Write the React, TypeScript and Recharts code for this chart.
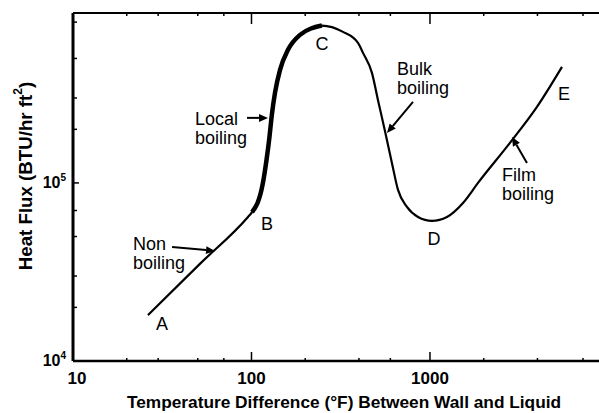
import React from 'react';
import { LineChart, Line, XAxis, YAxis, ReferenceLine, ReferenceDot } from 'recharts';

// Boiling curve: temperature difference (°F) vs heat flux (BTU/hr ft²)
const curve = [
  { x: 26.3, y: 18100 },
  { x: 51.4, y: 35100 },
  { x: 95.6, y: 64400 },
  { x: 100.7, y: 68500 },
  { x: 115.9, y: 100000 },
  { x: 121.4, y: 134700 },
  { x: 126.1, y: 181300 },
  { x: 130, y: 241000 },
  { x: 135.4, y: 320400 },
  { x: 144.5, y: 431300 },
  { x: 160.1, y: 558700 },
  { x: 187, y: 678000 },
  { x: 248, y: 765000 },
  { x: 325.6, y: 705000 },
  { x: 395, y: 612000 },
  { x: 421.5, y: 537500 },
  { x: 473, y: 415000 },
  { x: 511, y: 292600 },
  { x: 559.5, y: 195900 },
  { x: 612, y: 129500 },
  { x: 662, y: 91400 },
  { x: 743, y: 73300 },
  { x: 857, y: 64400 },
  { x: 1026, y: 61200 },
  { x: 1245, y: 64400 },
  { x: 1531, y: 77200 },
  { x: 1858, y: 100000 },
  { x: 2805, y: 167800 },
  { x: 3975, y: 267300 },
  { x: 5490, y: 448500 },
];

// Local boiling segment drawn heavier (B to C)
const localBoiling = [
  { x: 100.7, y: 68500 },
  { x: 115.9, y: 100000 },
  { x: 121.4, y: 134700 },
  { x: 126.1, y: 181300 },
  { x: 130, y: 241000 },
  { x: 135.4, y: 320400 },
  { x: 144.5, y: 431300 },
  { x: 160.1, y: 558700 },
  { x: 187, y: 678000 },
  { x: 248, y: 765000 },
];

const xMajor = [10, 100, 1000];
const xTicks = [10, 20, 30, 40, 50, 60, 70, 80, 90, 100, 200, 300, 400, 500, 600, 700, 800, 900, 1000, 2000, 3000, 4000, 5000, 6000, 7000, 8000];
const yMajor = [10000, 100000];
const yTicks = [10000, 20000, 30000, 40000, 50000, 60000, 70000, 80000, 90000, 100000, 200000, 300000, 400000, 500000, 600000, 700000, 800000];
const yExponent: Record<number, string> = { 10000: '4', 100000: '5' };

const pointLabels = [
  { name: 'A', x: 31.5, y: 14930 },
  { name: 'B', x: 122, y: 54450 },
  { name: 'C', x: 248, y: 558700 },
  { name: 'D', x: 1052, y: 44850 },
  { name: 'E', x: 5636, y: 292600 },
];

const regionLabels = [
  { lines: ['Non', 'boiling'], x: 21.7, y: 42030 },
  { lines: ['Local', 'boiling'], x: 48.3, y: 211700 },
  { lines: ['Bulk', 'boiling'], x: 653, y: 404500 },
  { lines: ['Film', 'boiling'], x: 2531, y: 102600 },
];

const arrows = [
  { from: { x: 35.9, y: 43700 }, to: { x: 62.5, y: 41500 } },
  { from: { x: 94.4, y: 231900 }, to: { x: 123.7, y: 231900 } },
  { from: { x: 803, y: 285200 }, to: { x: 574, y: 190900 } },
  { from: { x: 3494, y: 129500 }, to: { x: 2878, y: 181300 } },
];

const FONT = '"Liberation Sans", Arial, sans-serif';

const BottomTick = (props: any) => {
  const { x, y, payload } = props;
  const v = payload.value;
  const major = xMajor.includes(v);
  const len = major ? (v === 10 ? 0 : 9) : 3;
  return (
    <g>
      {len > 0 && <line x1={x} x2={x} y1={y} y2={y - len} stroke="#000" strokeWidth={1.5} />}
      {major && (
        <text x={x + (v === 10 ? 4 : 0)} y={y + 23} textAnchor="middle" fontFamily={FONT} fontWeight="bold" fontSize={17} fill="#000">
          {String(v)}
        </text>
      )}
    </g>
  );
};

const TopTick = (props: any) => {
  const { x, y, payload } = props;
  const v = payload.value;
  const major = xMajor.includes(v);
  const len = major ? (v === 10 ? 0 : 11) : 3;
  if (len === 0) return <g />;
  return <line x1={x} x2={x} y1={y} y2={y + len} stroke="#000" strokeWidth={1.5} />;
};

const LeftTick = (props: any) => {
  const { x, y, payload } = props;
  const v = payload.value;
  const major = yMajor.includes(v);
  return (
    <g>
      <line x1={x} x2={x + (major ? 6 : 4)} y1={y} y2={y} stroke="#000" strokeWidth={1.5} />
      {major && (
        <text x={x - 7} y={y + 5} textAnchor="end" fontFamily={FONT} fontWeight="bold" fontSize={16} fill="#000">
          10
          <tspan dy={-7} fontSize={10}>{yExponent[v]}</tspan>
        </text>
      )}
    </g>
  );
};

const YTitle = (props: any) => {
  const { viewBox } = props;
  const cx = viewBox.x + 25;
  const cy = viewBox.y + viewBox.height / 2 - 11;
  return (
    <text x={cx} y={cy} transform={`rotate(-90 ${cx} ${cy})`} textAnchor="middle" dominantBaseline="central" fontFamily={FONT} fontWeight="bold" fontSize={18.7} fill="#000">
      Heat Flux (BTU/hr ft
      <tspan dy={-7} fontSize={12}>2</tspan>
      <tspan dy={7}>)</tspan>
    </text>
  );
};

const XTitle = (props: any) => {
  const { viewBox } = props;
  const cx = viewBox.x + viewBox.width / 2 + 8;
  const cy = viewBox.y + 47;
  return (
    <text x={cx} y={cy} textAnchor="middle" fontFamily={FONT} fontWeight="bold" fontSize={17.3} fill="#000">
      Temperature Difference (°F) Between Wall and Liquid
    </text>
  );
};

const arrowShape = (p: any) => {
  const { x1, y1, x2, y2 } = p;
  const dx = x2 - x1;
  const dy = y2 - y1;
  const len = Math.sqrt(dx * dx + dy * dy) || 1;
  const ux = dx / len;
  const uy = dy / len;
  const hl = 9;
  const hw = 4;
  const bx = x2 - ux * hl;
  const by = y2 - uy * hl;
  const pts = `${x2},${y2} ${bx - uy * hw},${by + ux * hw} ${bx + uy * hw},${by - ux * hw}`;
  return (
    <g>
      <line x1={x1} y1={y1} x2={bx} y2={by} stroke="#000" strokeWidth={2} />
      <polygon points={pts} fill="#000" />
    </g>
  );
};

export default function App() {
  return (
    <div style={{ position: 'absolute', left: 0, top: 0, background: '#fff' }}>
      <LineChart width={599} height={413} margin={{ top: 0, right: 0, left: 0, bottom: 0 }}>
        <XAxis
          xAxisId="top"
          orientation="top"
          type="number"
          dataKey="x"
          scale="log"
          domain={[10, 8850]}
          ticks={xTicks}
          height={13}
          tickSize={0}
          tickMargin={0}
          tickLine={false}
          tick={<TopTick />}
          axisLine={{ stroke: '#000', strokeWidth: 2 }}
          allowDataOverflow
        />
        <XAxis
          type="number"
          dataKey="x"
          scale="log"
          domain={[10, 8850]}
          ticks={xTicks}
          height={52}
          tickSize={0}
          tickMargin={0}
          tickLine={false}
          tick={<BottomTick />}
          axisLine={{ stroke: '#000', strokeWidth: 2.5 }}
          label={{ content: <XTitle /> }}
          allowDataOverflow
        />
        <YAxis
          type="number"
          dataKey="y"
          scale="log"
          domain={[10000, 900000]}
          ticks={yTicks}
          width={73}
          tickSize={0}
          tickMargin={0}
          tickLine={false}
          tick={<LeftTick />}
          axisLine={{ stroke: '#000', strokeWidth: 3 }}
          label={{ content: <YTitle /> }}
          allowDataOverflow
        />
        <Line data={curve} dataKey="y" type="monotone" stroke="#000" strokeWidth={2.2} dot={false} isAnimationActive={false} />
        <Line data={localBoiling} dataKey="y" type="monotone" stroke="#000" strokeWidth={4.5} dot={false} isAnimationActive={false} />
        {arrows.map((a, i) => (
          <ReferenceLine key={`ar${i}`} segment={[a.from, a.to]} shape={arrowShape} />
        ))}
        {regionLabels.map((r, i) => (
          <ReferenceDot
            key={`rl${i}`}
            x={r.x}
            y={r.y}
            r={0}
            shape={(p: any) => (
              <text x={p.cx} y={p.cy} fontFamily={FONT} fontSize={18} fill="#000">
                {r.lines.map((ln, j) => (
                  <tspan key={j} x={p.cx} dy={j === 0 ? 0 : 19}>{ln}</tspan>
                ))}
              </text>
            )}
          />
        ))}
        {pointLabels.map((pl, i) => (
          <ReferenceDot
            key={`pl${i}`}
            x={pl.x}
            y={pl.y}
            r={0}
            shape={(p: any) => (
              <text x={p.cx} y={p.cy} textAnchor="middle" fontFamily={FONT} fontSize={18} fill="#000">
                {pl.name}
              </text>
            )}
          />
        ))}
      </LineChart>
    </div>
  );
}
